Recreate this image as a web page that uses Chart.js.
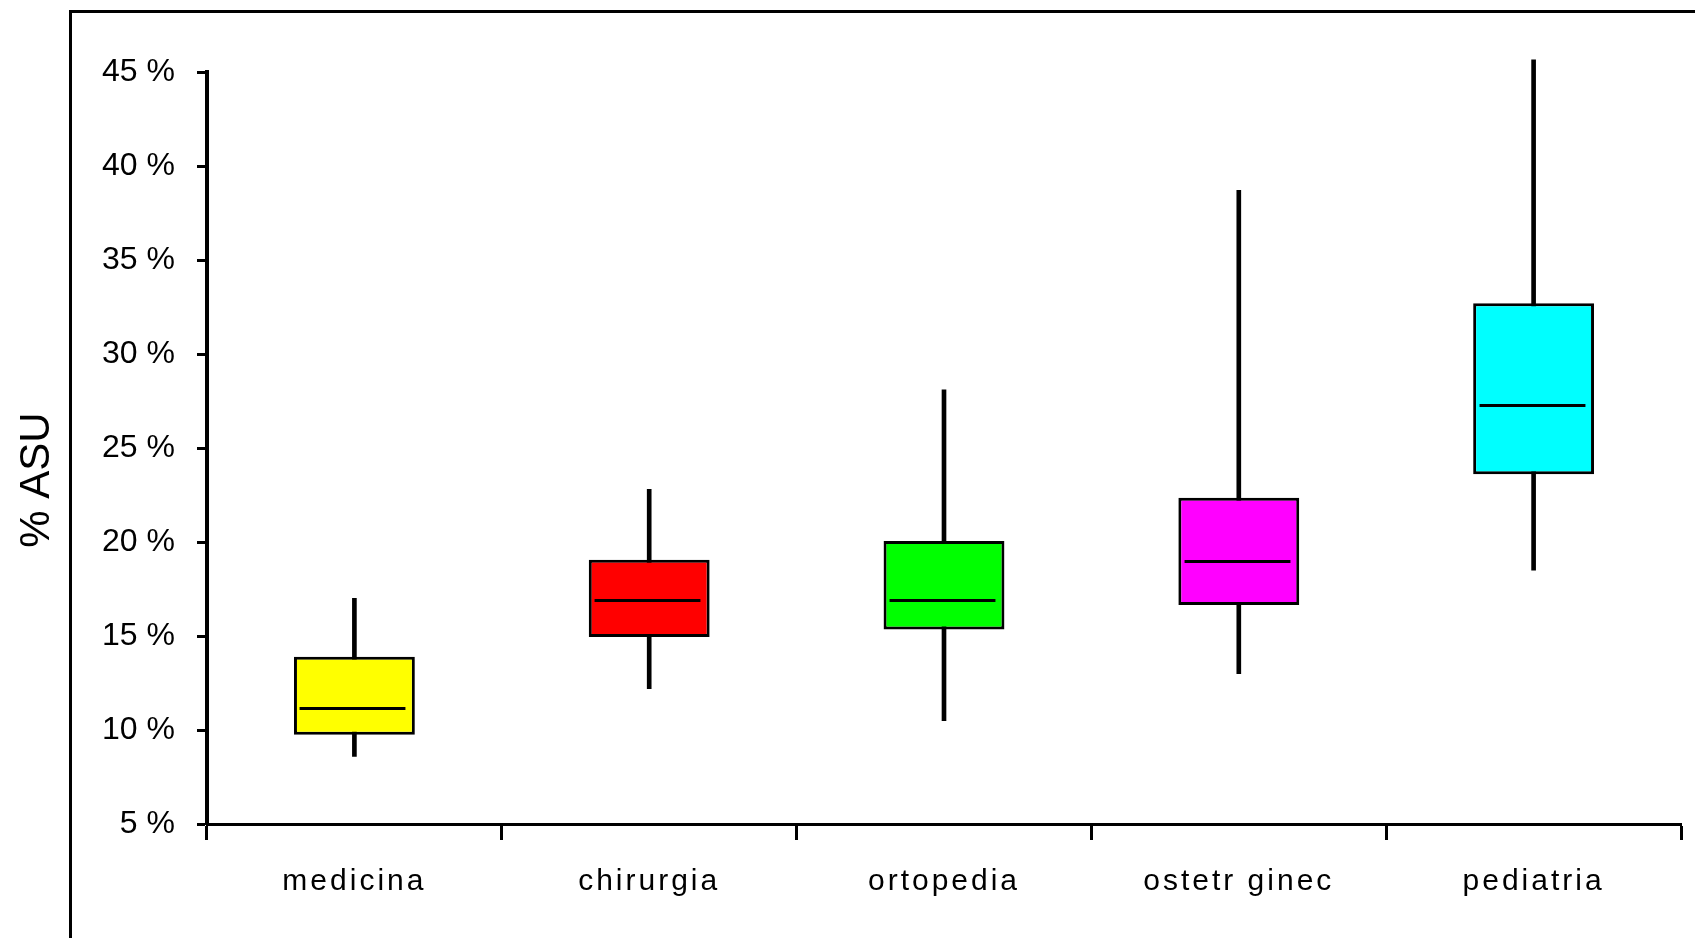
<!DOCTYPE html>
<html>
<head>
<meta charset="utf-8">
<script src="https://cdn.jsdelivr.net/npm/chart.js@4.4.1/dist/chart.umd.min.js"></script>
<style>
  html, body { margin: 0; padding: 0; background: #fff; overflow: hidden; }
  #wrap { position: relative; width: 1695px; height: 938px; }
  #frame { position: absolute; left: 69px; top: 10px; right: -10px; bottom: -10px;
           border-left: 3px solid #000; border-top: 3px solid #000; }
  #chart { position: absolute; left: 0; top: 0; }
</style>
</head>
<body>
<div id="wrap">
  <div id="frame"></div>
  <canvas id="chart" width="1695" height="938"></canvas>
</div>
<script>
// dati (percentuali)
const categories = ['medicina', 'chirurgia', 'ortopedia', 'ostetr ginec', 'pediatria'];
const whiskerLow = [8.6, 12.2, 10.5, 13.0, 18.5];
const q1 = [9.75, 14.95, 15.35, 16.65, 23.6];
const median = [11.15, 16.9, 16.9, 19.0, 27.3];
const q3 = [13.9, 19.05, 20.05, 22.35, 32.7];
const whiskerHigh = [17.0, 22.8, 28.1, 38.7, 45.65];
const boxColors = ['#ffff00', '#ff0000', '#00ff00', '#ff00ff', '#00ffff'];
const yTicks = [5, 10, 15, 20, 25, 30, 35, 40, 45];

const FONT = "'Liberation Sans', Arial, sans-serif";
const ctx = document.getElementById('chart').getContext('2d');

// linea della mediana dentro ogni box
const medianPlugin = {
    id: 'medianLines',
    afterDatasetsDraw(chart) {
        const c = chart.ctx;
        const xs = chart.scales.x, ys = chart.scales.y;
        const bars = chart.getDatasetMeta(0).data;
        c.save();
        c.strokeStyle = '#000';
        c.lineWidth = 3;
        median.forEach((m, i) => {
            const half = bars[i].width / 2;
            const cx = Math.round(xs.getPixelForValue(i));
            const y = Math.round(ys.getPixelForValue(m)) + 0.5;
            c.beginPath();
            c.moveTo(cx - half + 6, y);
            c.lineTo(cx + half - 9, y);
            c.stroke();
        });
        c.restore();
    }
};

// titolo asse y
const yTitlePlugin = {
    id: 'yTitle',
    afterDraw(chart) {
        const c = chart.ctx;
        c.save();
        c.translate(37, 480);
        c.rotate(-Math.PI / 2);
        c.font = '42px ' + FONT;
        c.fillStyle = '#000';
        c.textAlign = 'center';
        c.textBaseline = 'middle';
        c.fillText('% ASU', 0, 0);
        c.restore();
    }
};

// etichette x spaziate come nell'originale
const spacingPlugin = {
    id: 'xSpacing',
    afterLayout(chart) {
        const xs = chart.scales.x;
        if (xs._spaced) return;
        const draw = xs.drawLabels.bind(xs);
        xs.drawLabels = function(area) {
            chart.ctx.save();
            chart.ctx.letterSpacing = '3px';
            draw(area);
            chart.ctx.restore();
        };
        xs._spaced = true;
    }
};

new Chart(ctx, {
    type: 'bar',
    data: {
        labels: categories,
        datasets: [{
            label: 'box',
            data: categories.map((_, i) => [q1[i], q3[i]]),
            backgroundColor: boxColors,
            borderColor: '#000',
            borderWidth: 3,
            borderSkipped: false,
            categoryPercentage: 1,
            barPercentage: 0.41,
            grouped: false,
            order: 1
        }, {
            label: 'baffi',
            data: categories.map((_, i) => [whiskerLow[i], whiskerHigh[i]]),
            backgroundColor: '#000',
            borderWidth: 0,
            barThickness: 4,
            grouped: false,
            clip: false,
            order: 2
        }]
    },
    options: {
        responsive: false,
        animation: false,
        layout: { padding: { top: 72, right: 14, left: 0, bottom: 0 } },
        plugins: {
            legend: { display: false },
            tooltip: { enabled: false }
        },
        scales: {
            x: {
                offset: true,
                grid: {
                    offset: true,
                    drawOnChartArea: false,
                    drawTicks: true,
                    tickLength: 16,
                    tickWidth: 3,
                    tickColor: '#000'
                },
                border: { color: '#000', width: 3 },
                ticks: {
                    color: '#000',
                    padding: 24,
                    maxRotation: 0,
                    font: { family: FONT, size: 30 }
                },
                afterFit: s => { s.height = 114; s.paddingLeft = 0; s.paddingRight = 0; }
            },
            y: {
                min: 5,
                max: 45,
                afterBuildTicks: s => { s.ticks = yTicks.map(v => ({ value: v })); },
                grid: {
                    drawOnChartArea: false,
                    drawTicks: true,
                    tickLength: 10,
                    tickWidth: 3,
                    tickColor: '#000'
                },
                border: { color: '#000', width: 4 },
                ticks: {
                    color: '#000',
                    padding: 22,
                    font: { family: FONT, size: 32 },
                    callback: v => v + ' %'
                },
                afterFit: s => { s.width = 207; s.paddingTop = 0; s.paddingBottom = 0; }
            }
        }
    },
    plugins: [medianPlugin, yTitlePlugin, spacingPlugin]
});
</script>
</body>
</html>
